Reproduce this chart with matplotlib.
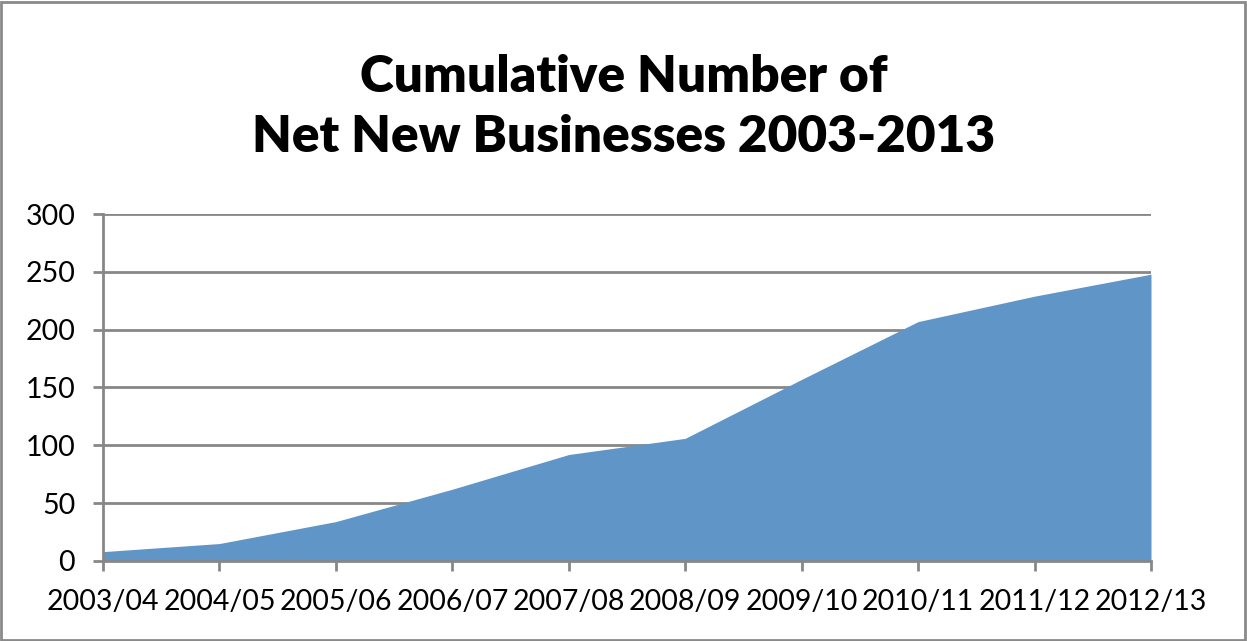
import matplotlib.pyplot as plt
from matplotlib.patches import Rectangle

plt.rcParams['font.family'] = ['Lato', 'DejaVu Sans']

# Financial years and cumulative net new businesses
years = ['2003/04', '2004/05', '2005/06', '2006/07', '2007/08',
         '2008/09', '2009/10', '2010/11', '2011/12', '2012/13']
cumulative = [8, 15, 34, 62, 92, 106, 157, 207, 229, 248]

fill_color = '#6095C8'
grid_color = '#878787'

fig = plt.figure(figsize=(12.47, 6.41), dpi=100)
ax = fig.add_axes([0.0826, 0.125, 0.8404, 0.541])

x = range(len(years))
ax.fill_between(x, cumulative, 0, color=fill_color, linewidth=0)

ax.set_xlim(0, len(years) - 1)
ax.set_ylim(0, 300)
ax.set_yticks(range(0, 301, 50))
ax.set_xticks(list(x))
ax.set_xticklabels(years)

# horizontal gridlines behind the area
ax.set_axisbelow(True)
ax.yaxis.grid(True, color=grid_color, linewidth=2)

for side in ['top', 'right']:
    ax.spines[side].set_visible(False)
for side in ['left', 'bottom']:
    ax.spines[side].set_color(grid_color)
    ax.spines[side].set_linewidth(2)

ax.tick_params(axis='both', colors=grid_color, width=2, length=7,
               labelsize=20.5, labelcolor='black')
ax.tick_params(axis='x', pad=13)
ax.tick_params(axis='y', pad=13)

fig.text(0.5, 0.833, 'Cumulative Number of\nNet New Businesses 2003-2013',
         ha='center', va='center', fontsize=37, fontweight='heavy',
         linespacing=1.36)

# thin frame round the whole chart
fig.patches.append(Rectangle((0.001, 0.002), 0.997, 0.995,
                             transform=fig.transFigure, fill=False,
                             edgecolor='#8a8a8a', linewidth=2))

fig.savefig('out.png', dpi=100)
